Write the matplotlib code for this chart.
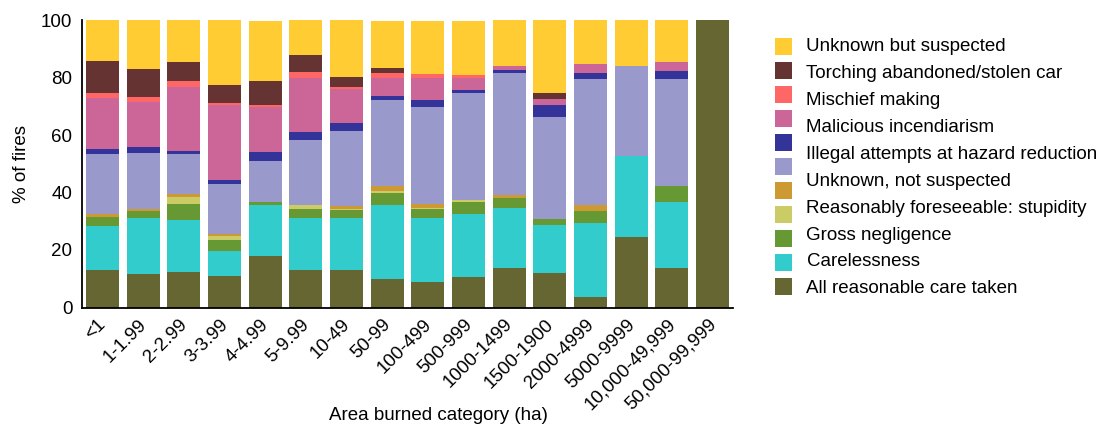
import numpy as np
import matplotlib.pyplot as plt
from matplotlib.patches import Rectangle
from matplotlib.transforms import ScaledTranslation

plt.rcParams['font.family'] = ['Liberation Sans', 'DejaVu Sans']

# ── Data (% of fires per area burned category) ──
categories = ['<1', '1-1.99', '2-2.99', '3-3.99', '4-4.99', '5-9.99', '10-49', '50-99',
              '100-499', '500-999', '1000-1499', '1500-1900', '2000-4999', '5000-9999',
              '10,000-49,999', '50,000-99,999']

care_taken   = [13.0, 11.6, 12.3, 10.9, 17.9, 13.0, 13.0,  9.9,  8.8, 10.6, 13.7, 11.9,  3.6, 24.5, 13.7, 100]
carelessness = [15.3, 19.5, 18.1,  8.7, 17.7, 18.1, 18.1, 25.7, 22.3, 21.9, 20.9, 16.8, 25.8, 28.2, 23.0, 0]
gross_negl   = [ 3.1,  2.4,  5.6,  3.8,  1.1,  3.1,  2.8,  4.2,  3.1,  4.2,  3.5,  2.0,  4.1,  0.0,  5.5, 0]
stupidity    = [ 0.0,  0.0,  2.4,  1.4,  0.0,  1.4,  0.3,  0.7,  0.4,  0.7,  0.0,  0.0,  0.0,  0.0,  0.0, 0]
unk_orange   = [ 1.2,  0.7,  1.0,  0.7,  0.0,  0.0,  1.1,  1.7,  1.4,  0.0,  1.0,  0.0,  2.1,  0.0,  0.0, 0]
unk_not_susp = [20.8, 19.5, 14.0, 17.4, 14.2, 22.6, 26.1, 30.0, 33.7, 37.2, 42.5, 35.5, 43.9, 31.3, 37.3, 0]
illegal_haz  = [ 1.7,  2.1,  1.0,  1.4,  3.2,  2.8,  2.8,  1.3,  2.5,  1.0,  1.0,  4.2,  2.1,  0.0,  2.8, 0]
malicious    = [17.9, 15.8, 22.3, 26.1, 15.6, 18.8, 11.8,  6.3,  7.6,  4.2,  1.4,  2.1,  3.1,  0.0,  3.1, 0]
mischief     = [ 1.6,  1.6,  2.1,  0.7,  0.7,  2.1,  0.7,  1.8,  1.4,  1.1,  0.0,  0.0,  0.0,  0.0,  0.0, 0]
torching     = [11.1,  9.7,  6.6,  6.3,  8.4,  5.9,  3.5,  1.7,  0.0,  0.0,  0.0,  2.1,  0.0,  0.0,  0.0, 0]
unk_suspect  = [14.3, 17.1, 14.6, 22.6, 20.9, 12.2, 19.8, 16.4, 18.5, 18.8, 16.0, 25.4, 15.3, 16.0, 14.6, 0]

# stacked bottom -> top
series = [care_taken, carelessness, gross_negl, stupidity, unk_orange, unk_not_susp,
          illegal_haz, malicious, mischief, torching, unk_suspect]
colors = ['#666633', '#33CCCC', '#669933', '#CCCC66', '#CC9933', '#9999CC',
          '#333399', '#CC6699', '#FF6666', '#663333', '#FFCC33']

legend_labels = ['Unknown but suspected', 'Torching abandoned/stolen car', 'Mischief making',
                 'Malicious incendiarism', 'Illegal attempts at hazard reduction',
                 'Unknown, not suspected', 'Reasonably foreseeable: stupidity',
                 'Gross negligence', 'Carelessness', 'All reasonable care taken']

W, H = 1102, 430
fig = plt.figure(figsize=(W / 100, H / 100), dpi=100)
ax = fig.add_axes([82 / W, 1 - 307.5 / H, (733 - 82) / W, (307.5 - 20) / H])

x = np.arange(len(categories))
bottom = np.zeros(len(categories))
for vals, c in zip(series, colors):
    ax.bar(x, vals, bottom=bottom, width=0.81, color=c, linewidth=0)
    bottom += np.array(vals)

ax.set_xlim(-0.5, 15.5)
ax.set_ylim(0, 100)
ax.set_yticks(range(0, 101, 20))
ax.tick_params(axis='both', length=0, labelsize=13.5)
ax.tick_params(axis='y', pad=7)
ax.set_xticks(x)
ax.set_xticklabels(categories, rotation=45, ha='right', va='top', rotation_mode='anchor')
ax.tick_params(axis='x', pad=6)
shift = ScaledTranslation(-5 / 100, 0, fig.dpi_scale_trans)
for lbl in ax.get_xticklabels():
    lbl.set_transform(lbl.get_transform() + shift)
for s in ['top', 'right']:
    ax.spines[s].set_visible(False)
ax.spines['left'].set_linewidth(1.3)
ax.spines['bottom'].set_linewidth(1.3)
ax.set_ylabel('% of fires', fontsize=13.5)
ax.yaxis.set_label_coords(-0.080, 0.5)
ax.set_xlabel('Area burned category (ha)', fontsize=13.5, va='top')
ax.xaxis.set_label_coords(0.548, -0.345)

# ── Legend (drawn by hand: 11 swatches, 10 labels) ──
for k, c in enumerate(colors[::-1]):
    y0 = 38.3 + 24 * k
    fig.add_artist(Rectangle((775 / W, 1 - (y0 + 17) / H), 17 / W, 17 / H,
                             transform=fig.transFigure, color=c, linewidth=0))
for k, lab in enumerate(legend_labels):
    yc = 46.7 + 26.9 * k
    fig.text(806.5 / W, 1 - yc / H, lab, fontsize=13.5, va='center', ha='left')

plt.savefig('out.png', dpi=100)
